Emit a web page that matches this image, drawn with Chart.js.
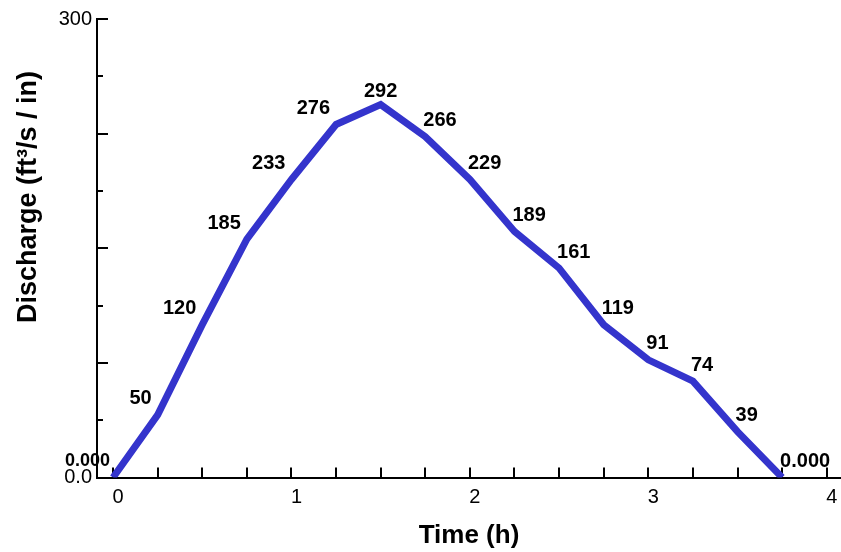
<!DOCTYPE html>
<html><head><meta charset="utf-8">
<script src="https://cdn.jsdelivr.net/npm/chart.js@4/dist/chart.umd.min.js"></script>
<style>html,body{margin:0;padding:0;background:#fff}canvas{display:block}</style>
</head><body>
<canvas id="c" width="841" height="552"></canvas>
<script>
// Data
const timeHours = [0, 0.25, 0.5, 0.75, 1.0, 1.25, 1.5, 1.75, 2.0, 2.25, 2.5, 2.75, 3.0, 3.25, 3.5, 3.75];
const dischargeValues = [0, 41, 100, 156, 195, 231, 244, 223, 195, 161, 137, 100, 77, 63, 30, 0];
const pointLabels = ['0.000', '50', '120', '185', '233', '276', '292', '266', '229', '189', '161', '119', '91', '74', '39', '0.000'];
const xTickValues = [0, 0.25, 0.5, 0.75, 1, 1.25, 1.5, 1.75, 2, 2.25, 2.5, 2.75, 3, 3.25, 3.5, 3.75, 4];
const yTickValues = [0, 37.5, 75, 112.5, 150, 187.5, 225, 262.5, 300];
const yTickText = {0: '0.0', 300: '300'};
const xTitle = 'Time (h)';
const yTitle = 'Discharge (ft\u00B3/s / in)';

const FONT = "'Liberation Sans', Arial, Helvetica, sans-serif";
const LINE_COLOR = 'rgb(52,52,204)';

const insideTicks = {
  id: 'insideTicks',
  beforeDatasetsDraw(chart) {
    const ctx = chart.ctx, xs = chart.scales.x, ys = chart.scales.y;
    const area = chart.chartArea;
    ctx.save();
    ctx.strokeStyle = '#000';
    ctx.lineWidth = 2;
    ctx.beginPath();
    xTickValues.forEach(v => {
      const px = Math.round(xs.getPixelForValue(v));
      ctx.moveTo(px, area.bottom + 1);
      ctx.lineTo(px, area.bottom - 10);
    });
    yTickValues.forEach(v => {
      const py = Math.round(ys.getPixelForValue(v));
      const len = (v % 75 === 0) ? 11 : 6;
      ctx.moveTo(area.left, py);
      ctx.lineTo(area.left + len, py);
    });
    ctx.stroke();
    ctx.restore();
  }
};

const valueLabels = {
  id: 'valueLabels',
  afterDatasetsDraw(chart) {
    const ctx = chart.ctx;
    const meta = chart.getDatasetMeta(0);
    const peak = dischargeValues.indexOf(Math.max(...dischargeValues));
    ctx.save();
    ctx.fillStyle = '#000';
    ctx.textBaseline = 'middle';
    meta.data.forEach((pt, i) => {
      const size = i === 0 ? 18 : 20;
      ctx.font = 'bold ' + size + 'px ' + FONT;
      let x = pt.x, y = pt.y - 16;
      if (i < peak) { ctx.textAlign = 'right'; x -= (i === 0 ? 3 : 6); }
      else if (i === peak) { ctx.textAlign = 'center'; y = pt.y - 13; }
      else { ctx.textAlign = 'left'; x -= 2; }
      ctx.fillText(pointLabels[i], x, y);
    });
    ctx.restore();
  }
};

const yAxisTitle = {
  id: 'yAxisTitle',
  afterDraw(chart) {
    const ctx = chart.ctx;
    ctx.save();
    ctx.translate(29, 197);
    ctx.rotate(-Math.PI / 2);
    ctx.font = 'bold 27px ' + FONT;
    ctx.fillStyle = '#000';
    ctx.textAlign = 'center';
    ctx.textBaseline = 'middle';
    ctx.fillText(yTitle, 0, 0);
    ctx.restore();
  }
};

new Chart(document.getElementById('c'), {
  type: 'line',
  data: {
    datasets: [{
      data: timeHours.map((t, i) => ({x: t, y: dischargeValues[i]})),
      borderColor: LINE_COLOR,
      borderWidth: 7,
      borderJoinStyle: 'miter',
      borderCapStyle: 'butt',
      pointRadius: 0,
      tension: 0,
      fill: false
    }]
  },
  options: {
    responsive: false,
    animation: false,
    devicePixelRatio: 1,
    layout: {padding: {top: 19, right: 0, bottom: 0, left: 0}},
    plugins: {legend: {display: false}, tooltip: {enabled: false}},
    scales: {
      x: {
        type: 'linear',
        min: -0.09,
        max: 4.08,
        afterBuildTicks: s => { s.ticks = xTickValues.map(v => ({value: v})); },
        afterFit: s => { s.height = 74.5; },
        grid: {display: false, drawTicks: false},
        border: {display: true, color: '#000', width: 2},
        ticks: {
          autoSkip: false,
          maxRotation: 0,
          padding: 8,
          labelOffset: 5,
          color: '#000',
          font: {family: FONT, size: 20},
          callback: v => Number.isInteger(v) ? String(v) : ''
        },
        title: {
          display: true, text: xTitle, color: '#000',
          font: {family: FONT, size: 26, weight: 'bold'},
          padding: {top: 0, bottom: 1}
        }
      },
      y: {
        type: 'linear',
        min: 0,
        max: 300,
        afterBuildTicks: s => { s.ticks = yTickValues.map(v => ({value: v})); },
        afterFit: s => { s.width = 97; },
        grid: {display: false, drawTicks: false},
        border: {display: true, color: '#000', width: 2},
        ticks: {
          autoSkip: false,
          padding: 5,
          color: '#000',
          font: {family: FONT, size: 20},
          callback: v => yTickText[v] !== undefined ? yTickText[v] : ''
        }
      }
    }
  },
  plugins: [insideTicks, valueLabels, yAxisTitle]
});
</script>
</body></html>
